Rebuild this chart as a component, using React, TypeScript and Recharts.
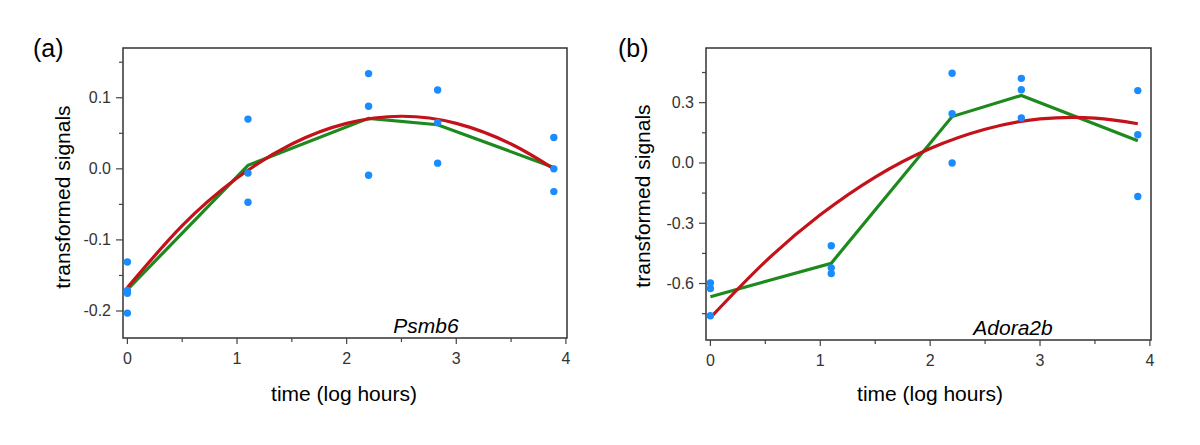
import React from 'react';
import { ComposedChart, XAxis, YAxis, Scatter, Line, ReferenceArea, Customized } from 'recharts';

// ---------- data ----------
const timePoints = [0, 1.1, 2.2, 2.83, 3.89];

// Panel (a) Psmb6: replicate measurements
const psmb6Points = [
  { x: 0, y: -0.131 }, { x: 0, y: -0.171 }, { x: 0, y: -0.175 }, { x: 0, y: -0.203 },
  { x: 1.1, y: 0.070 }, { x: 1.1, y: -0.006 }, { x: 1.1, y: -0.047 },
  { x: 2.2, y: 0.134 }, { x: 2.2, y: 0.088 }, { x: 2.2, y: -0.009 },
  { x: 2.83, y: 0.111 }, { x: 2.83, y: 0.065 }, { x: 2.83, y: 0.008 },
  { x: 3.89, y: 0.044 }, { x: 3.89, y: 0.0 }, { x: 3.89, y: -0.032 },
];
const psmb6Mean = [-0.170, 0.005, 0.071, 0.062, 0.002];
const psmb6FitX = [0, 0.5, 1.0, 1.5, 2.0, 2.5, 3.0, 3.5, 3.89];
const psmb6Fit = [-0.167, -0.080, -0.013, 0.035, 0.064, 0.074, 0.064, 0.035, 0.0];

// Panel (b) Adora2b
const adoraPoints = [
  { x: 0, y: -0.597 }, { x: 0, y: -0.625 }, { x: 0, y: -0.760 },
  { x: 1.1, y: -0.412 }, { x: 1.1, y: -0.522 }, { x: 1.1, y: -0.550 },
  { x: 2.2, y: 0.446 }, { x: 2.2, y: 0.245 }, { x: 2.2, y: 0.0 },
  { x: 2.83, y: 0.421 }, { x: 2.83, y: 0.364 }, { x: 2.83, y: 0.224 },
  { x: 3.89, y: 0.360 }, { x: 3.89, y: 0.140 }, { x: 3.89, y: -0.167 },
];
const adoraMean = [-0.666, -0.499, 0.231, 0.336, 0.110];
const adoraFitX = [0, 0.5, 1.0, 1.5, 2.0, 2.5, 3.0, 3.5, 3.89];
const adoraFit = [-0.770, -0.491, -0.258, -0.070, 0.072, 0.168, 0.219, 0.223, 0.195];

const xTicks = [0, 0.5, 1, 1.5, 2, 2.5, 3, 3.5, 4];
const xMajor = [0, 1, 2, 3, 4];
const yTicksA = [-0.2, -0.15, -0.1, -0.05, 0, 0.05, 0.1, 0.15];
const yMajorA = [-0.2, -0.1, 0, 0.1];
const yTicksB = [-0.75, -0.6, -0.45, -0.3, -0.15, 0, 0.15, 0.3, 0.45];
const yMajorB = [-0.6, -0.3, 0, 0.3];

// ---------- styles ----------
const BLUE = '#1a8cff';
const GREEN = '#1e8a1e';
const RED = '#c4121a';
const FONT = '"Liberation Sans", Arial, Helvetica, sans-serif';
const TICK_COLOR = '#333';
const X_DOMAIN: [number, number] = [-0.04, 4.01];

const isMajor = (v: number, majors: number[]) => majors.some((m) => Math.abs(m - v) < 1e-9);

const fmtY = (v: number) => (Math.abs(v) < 1e-9 ? '0.0' : v.toFixed(1));

function makeYTick(plotLeft: number, majors: number[]) {
  return (props: any) => {
    const { y, payload } = props;
    const major = isMajor(payload.value, majors);
    return (
      <g>
        <line x1={plotLeft - (major ? 7 : 4)} x2={plotLeft} y1={y} y2={y} stroke="#444" strokeWidth={1.2} />
        {major && (
          <text x={plotLeft - 12} y={y} textAnchor="end" dominantBaseline="central" fontSize={16} fontFamily={FONT} fill={TICK_COLOR}>
            {fmtY(payload.value)}
          </text>
        )}
      </g>
    );
  };
}

function makeXTick(plotBottom: number, majors: number[]) {
  return (props: any) => {
    const { x, payload } = props;
    const major = isMajor(payload.value, majors);
    return (
      <g>
        <line x1={x} x2={x} y1={plotBottom} y2={plotBottom + (major ? 6 : 4)} stroke="#444" strokeWidth={1.2} />
        {major && (
          <text x={x} y={plotBottom + 20} textAnchor="middle" dominantBaseline="central" fontSize={16} fontFamily={FONT} fill={TICK_COLOR}>
            {String(payload.value)}
          </text>
        )}
      </g>
    );
  };
}

const Dot = (props: any) => <circle cx={props.cx} cy={props.cy} r={3.7} fill={BLUE} />;

interface PanelProps {
  letter: string;
  gene: string;
  points: { x: number; y: number }[];
  mean: number[];
  fitX: number[];
  fit: number[];
  yDomain: [number, number];
  yTicks: number[];
  yMajor: number[];
  plot: { left: number; right: number; top: number; bottom: number };
  letterX: number;
  yLabel: { x: number; y: number };
  xLabel: { x: number; y: number };
  geneX: number;
}

function Panel(p: PanelProps) {
  const W = 600;
  const H = 445;
  const plotLeft = p.plot.left;
  const plotBottom = p.plot.bottom;
  const margin = { top: p.plot.top, left: p.plot.left - 1, right: W - p.plot.right, bottom: H - p.plot.bottom - 1 };
  const meanData = timePoints.map((x, i) => ({ x, y: p.mean[i] }));
  const fitData = p.fitX.map((x, i) => ({ x, y: p.fit[i] }));
  return (
    <ComposedChart width={W} height={H} margin={margin}>
      <XAxis
        type="number"
        dataKey="x"
        domain={X_DOMAIN}
        ticks={xTicks}
        interval={0}
        allowDataOverflow
        height={1}
        axisLine={false}
        tickLine={false}
        tick={makeXTick(plotBottom, xMajor)}
      />
      <YAxis
        type="number"
        dataKey="y"
        domain={p.yDomain}
        ticks={p.yTicks}
        interval={0}
        allowDataOverflow
        width={1}
        axisLine={false}
        tickLine={false}
        tick={makeYTick(plotLeft, p.yMajor)}
      />
      <ReferenceArea
        x1={X_DOMAIN[0]}
        x2={X_DOMAIN[1]}
        y1={p.yDomain[0]}
        y2={p.yDomain[1]}
        fill="none"
        fillOpacity={0}
        stroke="#333"
        strokeWidth={1.5}
        strokeOpacity={1}
        ifOverflow="visible"
      />
      <Scatter data={p.points} dataKey="y" shape={Dot} isAnimationActive={false} />
      <Line data={meanData} dataKey="y" type="linear" stroke={GREEN} strokeWidth={3.2} dot={false} isAnimationActive={false} />
      <Line data={fitData} dataKey="y" type="natural" stroke={RED} strokeWidth={3.2} dot={false} isAnimationActive={false} />
      <Customized
        component={() => (
          <g fontFamily={FONT}>
            <text x={p.letterX} y={48} dominantBaseline="central" fontSize={25} fill="#000">{p.letter}</text>
            <text
              x={p.yLabel.x}
              y={p.yLabel.y}
              textAnchor="middle"
              dominantBaseline="central"
              fontSize={21}
              fill="#000"
              transform={`rotate(-90 ${p.yLabel.x} ${p.yLabel.y})`}
            >
              transformed signals
            </text>
            <text x={p.xLabel.x} y={p.xLabel.y} textAnchor="middle" dominantBaseline="central" fontSize={21} fill="#000">
              time (log hours)
            </text>
            <text x={p.geneX} y={plotBottom - 13} textAnchor="middle" dominantBaseline="central" fontSize={21} fontStyle="italic" fill="#000">
              {p.gene}
            </text>
          </g>
        )}
      />
    </ComposedChart>
  );
}

export default function App() {
  return (
    <div style={{ position: 'fixed', left: 0, top: 0, width: 1200, height: 445, background: '#fff' }}>
      <div style={{ position: 'absolute', left: 0, top: 0 }}>
        <Panel
          letter="(a)"
          gene="Psmb6"
          points={psmb6Points}
          mean={psmb6Mean}
          fitX={psmb6FitX}
          fit={psmb6Fit}
          yDomain={[-0.238, 0.17]}
          yTicks={yTicksA}
          yMajor={yMajorA}
          plot={{ left: 123, right: 567, top: 48, bottom: 338 }}
          letterX={33}
          yLabel={{ x: 62, y: 197 }}
          xLabel={{ x: 344, y: 393 }}
          geneX={426}
        />
      </div>
      <div style={{ position: 'absolute', left: 600, top: 0 }}>
        <Panel
          letter="(b)"
          gene="Adora2b"
          points={adoraPoints}
          mean={adoraMean}
          fitX={adoraFitX}
          fit={adoraFit}
          yDomain={[-0.881, 0.572]}
          yTicks={yTicksB}
          yMajor={yMajorB}
          plot={{ left: 106, right: 551, top: 48, bottom: 340 }}
          letterX={18}
          yLabel={{ x: 42, y: 196 }}
          xLabel={{ x: 330, y: 393 }}
          geneX={413}
        />
      </div>
    </div>
  );
}
